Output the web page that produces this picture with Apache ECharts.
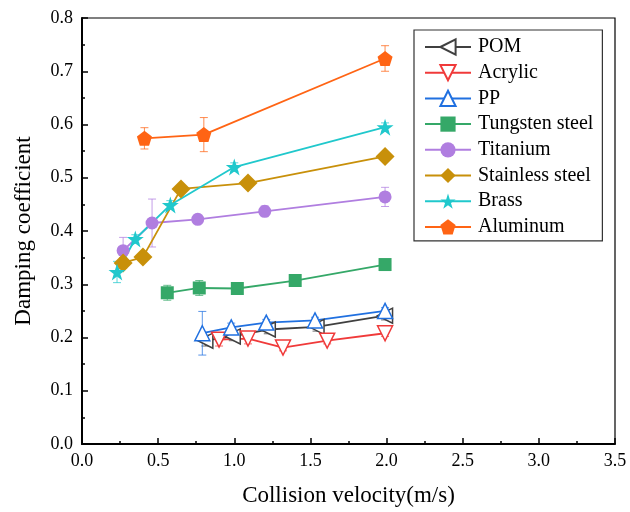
<!DOCTYPE html>
<html>
<head>
<meta charset="utf-8">
<script src="https://cdn.jsdelivr.net/npm/echarts@6/dist/echarts.min.js"></script>
<style>
  html, body { margin: 0; padding: 0; background: #fff; }
  #chart { width: 630px; height: 512px; }
</style>
</head>
<body>
<div id="chart"></div>
<script>
// Damping coefficient vs. collision velocity for eight materials
const materials = ['POM', 'Acrylic', 'PP', 'Tungsten steel', 'Titanium', 'Stainless steel', 'Brass', 'Aluminum'];

// velocities (m/s)
const pomX = [0.81, 0.99, 1.22, 1.54, 1.99];
const acrylicX = [0.90, 1.09, 1.32, 1.61, 1.99];
const ppX = [0.79, 0.98, 1.21, 1.53, 1.99];
const tungstenX = [0.56, 0.77, 1.02, 1.40, 1.99];
const titaniumX = [0.27, 0.46, 0.76, 1.20, 1.99];
const stainlessX = [0.27, 0.40, 0.65, 1.09, 1.99];
const brassX = [0.23, 0.35, 0.58, 1.00, 1.99];
const aluminumX = [0.41, 0.80, 1.99];

// damping coefficients
const pomY = [0.194, 0.202, 0.215, 0.220, 0.241];
const acrylicY = [0.196, 0.198, 0.181, 0.194, 0.208];
const ppY = [0.208, 0.219, 0.228, 0.232, 0.250];
const tungstenY = [0.284, 0.293, 0.292, 0.307, 0.337];
const titaniumY = [0.363, 0.415, 0.422, 0.437, 0.464];
const stainlessY = [0.340, 0.351, 0.479, 0.490, 0.540];
const brassY = [0.323, 0.385, 0.449, 0.520, 0.595];
const aluminumY = [0.574, 0.581, 0.724];

// standard deviations
const pomErr = [0.010, 0.008, 0.008, 0.008, 0.008];
const acrylicErr = [0.012, 0.010, 0.006, 0.006, 0.006];
const ppErr = [0.041, 0.008, 0.006, 0.006, 0.006];
const tungstenErr = [0.014, 0.014, 0.008, 0.008, 0.008];
const titaniumErr = [0.025, 0.045, 0.008, 0.010, 0.018];
const stainlessErr = [0.010, 0.008, 0.008, 0.008, 0.008];
const brassErr = [0.020, 0.008, 0.008, 0.008, 0.008];
const aluminumErr = [0.020, 0.032, 0.024];

const xTicks = ['0.0', '0.5', '1.0', '1.5', '2.0', '2.5', '3.0', '3.5'];
const yTicks = ['0.0', '0.1', '0.2', '0.3', '0.4', '0.5', '0.6', '0.7', '0.8'];

const FONT = '"Liberation Serif", "Times New Roman", serif';

const starPath = 'path://M50,0 L61.8,35.4 L99,35.4 L69.1,57.3 L80.4,92.7 L50,70.8 L19.6,92.7 L30.9,57.3 L1,35.4 L38.2,35.4 Z';
const pentagonPath = 'path://M50,0 L97.6,34.5 L79.4,90.5 L20.6,90.5 L2.4,34.5 Z';

const styles = [
  { color: '#404040', symbol: 'triangle', rotate: 90, size: 15, hollow: true },
  { color: '#f03a3a', symbol: 'triangle', rotate: 180, size: 15, hollow: true },
  { color: '#2070e0', symbol: 'triangle', rotate: 0, size: 15, hollow: true },
  { color: '#35a868', symbol: 'rect', rotate: 0, size: 13, hollow: false },
  { color: '#b07ee0', symbol: 'circle', rotate: 0, size: 13, hollow: false },
  { color: '#c8900a', symbol: 'diamond', rotate: 0, size: 19, hollow: false },
  { color: '#20c8cc', symbol: starPath, rotate: 0, size: 17, hollow: false },
  { color: '#ff6414', symbol: pentagonPath, rotate: 0, size: 15, hollow: false }
];

const xs = [pomX, acrylicX, ppX, tungstenX, titaniumX, stainlessX, brassX, aluminumX];
const ys = [pomY, acrylicY, ppY, tungstenY, titaniumY, stainlessY, brassY, aluminumY];
const errs = [pomErr, acrylicErr, ppErr, tungstenErr, titaniumErr, stainlessErr, brassErr, aluminumErr];

const series = [];
materials.forEach((name, i) => {
  const st = styles[i];
  const errData = xs[i].map((x, k) => [x, ys[i][k] - errs[i][k], ys[i][k] + errs[i][k]]);
  // error bars with caps
  series.push({
    type: 'custom',
    name: name + '-err',
    z: 2,
    silent: true,
    data: errData,
    renderItem: function (params, api) {
      const top = api.coord([api.value(0), api.value(2)]);
      const bot = api.coord([api.value(0), api.value(1)]);
      const hw = 4;
      const s = { stroke: st.color, lineWidth: 1, opacity: 0.75 };
      return {
        type: 'group',
        children: [
          { type: 'line', shape: { x1: top[0], y1: top[1], x2: bot[0], y2: bot[1] }, style: s },
          { type: 'line', shape: { x1: top[0] - hw, y1: top[1], x2: top[0] + hw, y2: top[1] }, style: s },
          { type: 'line', shape: { x1: bot[0] - hw, y1: bot[1], x2: bot[0] + hw, y2: bot[1] }, style: s }
        ]
      };
    }
  });
  series.push({
    type: 'line',
    name: name,
    z: 3,
    data: xs[i].map((x, k) => [x, ys[i][k]]),
    symbol: st.symbol,
    symbolRotate: st.rotate,
    symbolSize: st.size,
    showAllSymbol: true,
    lineStyle: { color: st.color, width: 1.8 },
    itemStyle: st.hollow
      ? { color: '#ffffff', borderColor: st.color, borderWidth: 1.5 }
      : { color: st.color, borderColor: st.color, borderWidth: 0 },
    emphasis: { disabled: true },
    animation: false
  });
});

const chart = echarts.init(document.getElementById('chart'));
chart.setOption({
  animation: false,
  backgroundColor: '#ffffff',
  grid: {
    left: 82, right: 15, top: 18, bottom: 66,
    show: true, borderColor: '#000', borderWidth: 1.2, backgroundColor: 'transparent'
  },
  legend: {
    data: materials,
    orient: 'vertical',
    left: 414, top: 30,
    padding: [7, 9, 4, 10],
    itemGap: 5.7,
    itemWidth: 46,
    itemHeight: 19,
    backgroundColor: '#fff',
    borderColor: '#333',
    borderWidth: 1.2,
    textStyle: { fontFamily: FONT, fontSize: 20, lineHeight: 20, color: '#000', padding: [0, 0, 0, 2] }
  },
  xAxis: {
    type: 'value',
    min: 0, max: 3.5, interval: 0.5,
    name: 'Collision velocity(m/s)',
    nameLocation: 'middle',
    nameGap: 40,
    nameTextStyle: { fontFamily: FONT, fontSize: 23, color: '#000' },
    axisLine: { show: true, onZero: false, lineStyle: { color: '#000', width: 2 } },
    axisTick: { show: true, inside: true, length: 6, lineStyle: { color: '#000', width: 1.5 } },
    minorTick: { show: true, splitNumber: 2, length: 3, lineStyle: { color: '#000', width: 1.5 } },
    splitLine: { show: false },
    axisLabel: {
      fontFamily: FONT, fontSize: 18, color: '#000', margin: 8,
      formatter: v => xTicks[Math.round(v / 0.5)]
    }
  },
  yAxis: {
    type: 'value',
    min: 0, max: 0.8, interval: 0.1,
    name: 'Damping coefficient',
    nameLocation: 'middle',
    nameGap: 47,
    nameTextStyle: { fontFamily: FONT, fontSize: 23, color: '#000' },
    axisLine: { show: true, onZero: false, lineStyle: { color: '#000', width: 2 } },
    axisTick: { show: true, inside: true, length: 6, lineStyle: { color: '#000', width: 1.5 } },
    minorTick: { show: true, splitNumber: 2, length: 3, lineStyle: { color: '#000', width: 1.5 } },
    splitLine: { show: false },
    axisLabel: {
      fontFamily: FONT, fontSize: 18, color: '#000', margin: 9,
      formatter: v => yTicks[Math.round(v / 0.1)]
    }
  },
  series: series
});
</script>
</body>
</html>
